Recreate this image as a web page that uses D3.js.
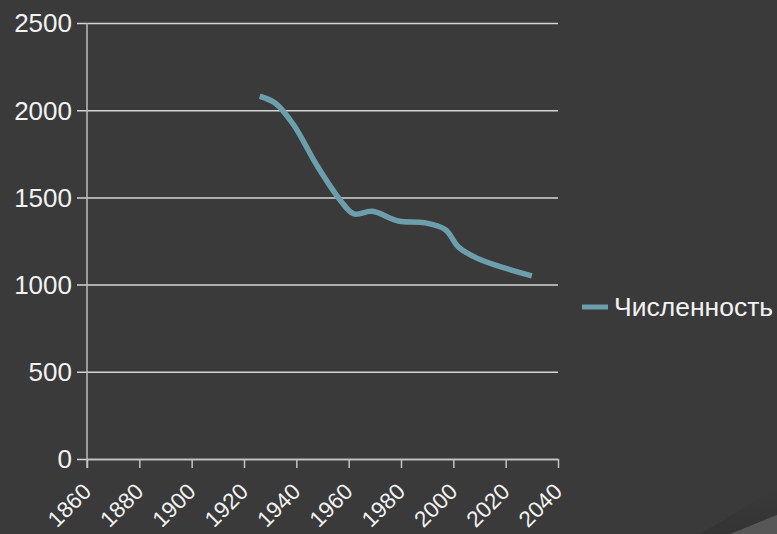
<!DOCTYPE html>
<html>
<head>
    <title>Численность</title>
    <style>
        body { margin: 0; background: #3a3a3a; }
        svg { display: block; }
    </style>
</head>
<body>
<script src="https://d3js.org/d3.v7.min.js"></script>
<script>
    var width = 777,
        height = 534;

    // population series
    var years = [1926, 1932, 1939, 1948, 1957, 1962, 1969, 1979, 1989, 1997, 2002, 2010, 2030];
    var values = [2080, 2040, 1915, 1680, 1480, 1405, 1420, 1365, 1355, 1315, 1215, 1145, 1050];
    var xTicks = [1860, 1880, 1900, 1920, 1940, 1960, 1980, 2000, 2020, 2040];
    var yTicks = [0, 500, 1000, 1500, 2000, 2500];
    var seriesName = 'Численность';

    var margin = {left: 87, right: 219, top: 23, bottom: 75};

    var x = d3.scaleLinear().domain([1860, 2040]).range([margin.left, width - margin.right]);
    var y = d3.scaleLinear().domain([0, 2500]).range([height - margin.bottom, margin.top]);

    var svg = d3.select('body').append('svg')
            .attr('width', width)
            .attr('height', height);

    // background and the lighter wedge in the corner
    svg.append('rect').attr('width', width).attr('height', height).attr('fill', '#3a3a3a');
    var shade = svg.append('defs').append('linearGradient')
            .attr('id', 'shade').attr('x1', 0).attr('y1', 0).attr('x2', 0).attr('y2', 1);
    shade.append('stop').attr('offset', 0).attr('stop-color', '#3a3a3a');
    shade.append('stop').attr('offset', 1).attr('stop-color', '#333');
    svg.append('path').attr('d', 'M700,534 L777,488 L777,534 Z').attr('fill', 'url(#shade)');
    svg.append('path').attr('d', 'M730,534 L777,515 L777,534 Z').attr('fill', '#575757');

    var font = '"Liberation Sans", Arial, sans-serif';

    // horizontal grid + y axis
    var yAxis = svg.append('g')
            .attr('transform', 'translate(' + margin.left + ',0)')
            .call(d3.axisLeft(y).tickValues(yTicks).tickFormat(d3.format('d'))
                .tickSize(-(width - margin.right - margin.left))
                .tickSizeOuter(0).tickPadding(15));
    yAxis.select('.domain').remove();
    yAxis.selectAll('.tick line')
            .attr('x1', -10)
            .attr('stroke', '#d4d4d4')
            .attr('stroke-width', 1.5);
    yAxis.selectAll('.tick text')
            .attr('fill', '#f2f2f2')
            .attr('dy', '0.34em')
            .style('font-family', font)
            .style('font-size', '26px');

    svg.append('line')
            .attr('x1', margin.left).attr('x2', margin.left)
            .attr('y1', y(2500)).attr('y2', y(0) + 9)
            .attr('stroke', '#bdbdbd').attr('stroke-width', 1.5);

    // x axis
    var xAxis = svg.append('g')
            .attr('transform', 'translate(0,' + y(0) + ')')
            .call(d3.axisBottom(x).tickValues(xTicks).tickFormat(d3.format('d'))
                .tickSize(9).tickSizeOuter(0));
    xAxis.select('.domain').attr('stroke', '#c4c4c4').attr('stroke-width', 1.5);
    xAxis.selectAll('.tick line').attr('stroke', '#c4c4c4').attr('stroke-width', 1.5);
    xAxis.selectAll('.tick text')
            .attr('fill', '#f2f2f2')
            .style('font-family', font)
            .style('font-size', '22.5px')
            .attr('text-anchor', 'end')
            .attr('y', 0)
            .attr('dy', 0)
            .attr('transform', 'translate(5,34) rotate(-45)');

    // the series
    var line = d3.line()
            .x(function (d, i) { return x(years[i]); })
            .y(function (d) { return y(d); })
            .curve(d3.curveCatmullRom.alpha(0.5));

    svg.append('path')
            .datum(values)
            .attr('d', line)
            .attr('fill', 'none')
            .attr('stroke', '#6c9fab')
            .attr('stroke-width', 5.5)
            .attr('stroke-linejoin', 'round');

    // legend
    var legend = svg.append('g').attr('transform', 'translate(582,307)');
    legend.append('line')
            .attr('x1', 0).attr('x2', 26)
            .attr('stroke', '#6c9fab').attr('stroke-width', 5);
    legend.append('text')
            .attr('x', 32).attr('dy', '0.35em')
            .attr('fill', '#f2f2f2')
            .style('font-family', font)
            .style('font-size', '26.5px')
            .text(seriesName);
</script>
</body>
</html>
